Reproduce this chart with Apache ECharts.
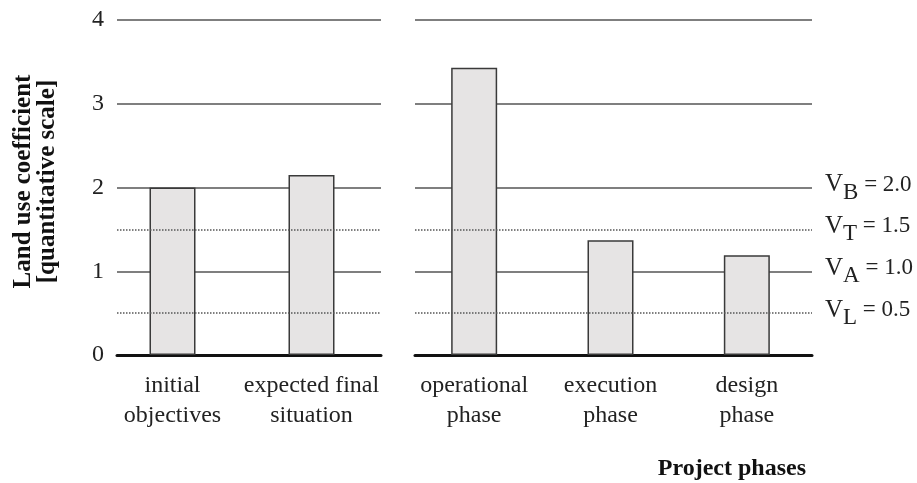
<!DOCTYPE html>
<html><head><meta charset="utf-8">
<script src="https://cdn.jsdelivr.net/npm/echarts@6/dist/echarts.min.js"></script>
<style>html,body{margin:0;padding:0;background:#fff}#c{width:917px;height:483px}</style>
</head><body><div id="c"></div>
<script>
// ---- data ----
const leftCategories = ['initial\nobjectives', 'expected final\nsituation'];
const leftValues = [2.0, 2.15];
const rightCategories = ['operational\nphase', 'execution\nphase', 'design\nphase'];
const rightValues = [3.43, 1.37, 1.19];
const yTicks = [0, 1, 2, 3, 4];
const thresholdNames = ['B', 'T', 'A', 'L'];
const thresholdValues = [2.0, 1.5, 1.0, 0.5];
const yTitle = 'Land use coefficient\n[quantitative scale]';
const xTitle = 'Project phases';

// ---- chart ----
const FONT = '"Liberation Serif", "Times New Roman", serif';
const chart = echarts.init(document.getElementById('c'), null, {renderer: 'canvas'});
const yMin = yTicks[0], yMax = yTicks[yTicks.length - 1], yStep = yTicks[1] - yTicks[0];
const GRID_COLOR = '#555';
const isDotted = v => !yTicks.includes(v);

const gridTop = 20, gridBottom = 128;
const grids = [
  {left: 117, width: 264, top: gridTop, bottom: gridBottom},
  {left: 103, width: 278, top: gridTop, bottom: gridBottom},
  {left: 415, width: 397, top: gridTop, bottom: gridBottom},
  {left: 406, width: 409, top: gridTop, bottom: gridBottom}
];

function lineXAxis(gi, cats) {
  return {gridIndex: gi, type: 'category', data: cats,
    axisLine: {show: true, onZero: false, lineStyle: {color: '#111', width: 3}},
    axisTick: {show: false}, axisLabel: {show: false}, splitLine: {show: false}};
}
function barXAxis(gi, cats) {
  return {gridIndex: gi, type: 'category', data: cats,
    axisLine: {show: false}, axisTick: {show: false}, splitLine: {show: false},
    axisLabel: {show: true, interval: 0, margin: 16, fontFamily: FONT, fontSize: 24, lineHeight: 30, color: '#222'}};
}
function lineYAxis(gi, labels) {
  const ax = {gridIndex: gi, type: 'value', min: yMin, max: yMax, interval: yStep,
    axisLine: {show: false}, axisTick: {show: false},
    splitLine: {show: true, lineStyle: {color: GRID_COLOR, width: 1.5}},
    axisLabel: {show: labels, margin: 13, fontFamily: FONT, fontSize: 24, color: '#222'}};
  if (labels) {
    Object.assign(ax, {name: yTitle, nameLocation: 'middle', nameGap: 57, nameRotate: 90,
      nameTextStyle: {fontFamily: FONT, fontWeight: 'bold', fontSize: 25, lineHeight: 24, color: '#111',
        padding: [0, 0, 0, 12]}});
  }
  return ax;
}
function barYAxis(gi) {
  return {gridIndex: gi, type: 'value', min: yMin, max: yMax, interval: yStep, show: false,
    splitLine: {show: false}};
}
const barStyle = {color: '#e6e4e4', borderColor: '#3a3a3a', borderWidth: 1.5};

const dottedStyle = {type: 'dotted', color: GRID_COLOR, width: 1.5};
const leftMarks = thresholdValues.filter(isDotted).map(v => ({yAxis: v, lineStyle: dottedStyle}));
const rightMarks = thresholdValues.map((v, i) => ({
  yAxis: v,
  lineStyle: isDotted(v) ? dottedStyle : {color: 'rgba(0,0,0,0)', width: 1},
  label: {show: true, position: 'end', distance: 13, offset: [0, -3],
    formatter: '{v|V}{s|' + thresholdNames[i] + '}{e| = ' + v.toFixed(1) + '}'}
}));
const richLabel = {
  color: '#222',
  rich: {
    v: {fontFamily: FONT, fontSize: 25, color: '#222'},
    s: {fontFamily: FONT, fontSize: 23, color: '#222', padding: [16, 0, 0, 0]},
    e: {fontFamily: FONT, fontSize: 23, color: '#222'}
  }
};

chart.setOption({
  animation: false,
  backgroundColor: '#fff',
  grid: grids,
  xAxis: [lineXAxis(0, leftCategories), barXAxis(1, leftCategories), lineXAxis(2, rightCategories), barXAxis(3, rightCategories)],
  yAxis: [lineYAxis(0, true), barYAxis(1), lineYAxis(2, false), barYAxis(3)],
  graphic: [{type: 'text', x: 806, y: 469,
    style: {text: xTitle, font: 'bold 24px ' + FONT, fill: '#111', textAlign: 'right', textVerticalAlign: 'middle'}}],
  series: [
    {type: 'bar', xAxisIndex: 1, yAxisIndex: 1, data: leftValues, barWidth: 46, itemStyle: barStyle, silent: true},
    {type: 'bar', xAxisIndex: 3, yAxisIndex: 3, data: rightValues, barWidth: 46, itemStyle: barStyle, silent: true},
    {type: 'line', xAxisIndex: 0, yAxisIndex: 0, data: [], silent: true,
      markLine: {silent: true, symbol: 'none', z: 5, label: {show: false}, data: leftMarks}},
    {type: 'line', xAxisIndex: 2, yAxisIndex: 2, data: [], silent: true,
      markLine: {silent: true, symbol: 'none', z: 5, label: richLabel, data: rightMarks}}
  ]
});
</script></body></html>
